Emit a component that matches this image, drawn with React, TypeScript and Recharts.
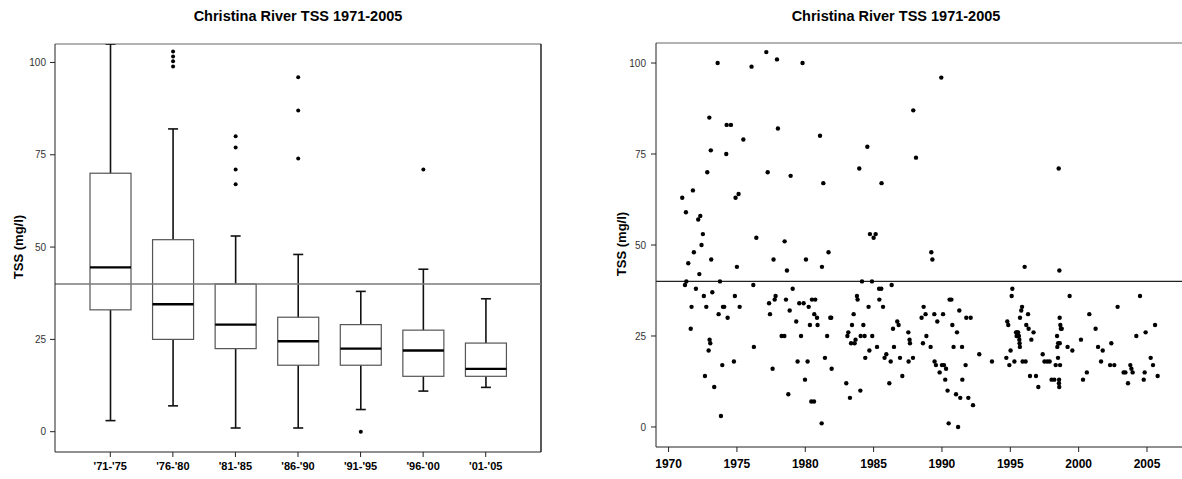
import React from 'react';
import { ComposedChart, ScatterChart, Bar, Scatter, XAxis, YAxis, ReferenceLine, CartesianGrid } from 'recharts';

const FONT = "'Liberation Sans', Arial, Helvetica, sans-serif";
const TITLE = 'Christina River TSS 1971-2005';
const Y_LABEL = 'TSS (mg/l)';
const STANDARD = 40;

// ---- Box plot (left) ----
const periods = ["'71-'75", "'76-'80", "'81-'85", "'86-'90", "'91-'95", "'96-'00", "'01-'05"];
const whiskerLow = [3, 7, 1, 1, 6, 11, 12];
const q1 = [33, 25, 22.5, 18, 18, 15, 15];
const median = [44.5, 34.5, 29, 24.5, 22.5, 22, 17];
const q3 = [70, 52, 40, 31, 29, 27.5, 24];
const whiskerHigh = [105, 82, 53, 48, 38, 44, 36];
const outliers: number[][] = [[], [103, 101.6, 100.3, 98.9], [80, 77, 71, 67], [96, 87, 74], [0], [71], []];

const yTicks = [0, 25, 50, 75, 100];
const yearTicks = [1970, 1975, 1980, 1985, 1990, 1995, 2000, 2005];

// ---- Scatter (right) ----
const sampleYears = [
  1971.0, 1971.2, 1971.27, 1971.3, 1971.44, 1971.62, 1971.68, 1971.78, 1971.85, 1972.0,
  1972.17, 1972.25, 1972.32, 1972.41, 1972.51, 1972.58, 1972.66, 1972.76, 1972.83, 1972.93,
  1972.98, 1973.0, 1973.05, 1973.09, 1973.12, 1973.2, 1973.34, 1973.59, 1973.66, 1973.76,
  1973.83, 1973.93, 1973.98, 1974.07, 1974.22, 1974.25, 1974.56, 1974.32, 1974.78, 1974.85,
  1974.9, 1975.0, 1975.12, 1975.2, 1975.47, 1976.07, 1976.2, 1976.24, 1976.42, 1977.15,
  1977.25, 1977.35, 1977.42, 1977.61, 1977.68, 1977.76, 1977.83, 1977.93, 1978.0, 1978.27,
  1978.47, 1978.49, 1978.59, 1978.66, 1978.76, 1978.86, 1978.93, 1979.08, 1979.34, 1979.44,
  1979.56, 1979.69, 1979.8, 1979.88, 1979.98, 1980.05, 1980.17, 1980.25, 1980.34, 1980.44,
  1980.49, 1980.64, 1980.66, 1980.73, 1980.86, 1980.9, 1981.08, 1981.2, 1981.22, 1981.32,
  1981.44, 1981.6, 1981.7, 1981.83, 1981.9, 1981.93, 1983.0, 1983.08, 1983.15, 1983.27,
  1983.35, 1983.42, 1983.54, 1983.61, 1983.68, 1983.78, 1983.83, 1983.95, 1984.03, 1984.05,
  1984.15, 1984.25, 1984.34, 1984.39, 1984.54, 1984.63, 1984.69, 1984.73, 1984.88, 1984.9,
  1985.0, 1985.15, 1985.25, 1985.4, 1985.42, 1985.56, 1985.58, 1985.69, 1985.8, 1985.93,
  1986.15, 1986.25, 1986.32, 1986.42, 1986.49, 1986.73, 1986.83, 1986.93, 1987.1, 1987.54,
  1987.56, 1987.63, 1987.66, 1987.88, 1987.9, 1988.1, 1988.51, 1988.61, 1988.66, 1988.8,
  1988.86, 1989.17, 1989.22, 1989.3, 1989.44, 1989.46, 1989.56, 1989.66, 1989.83, 1989.95,
  1990.0, 1990.08, 1990.15, 1990.24, 1990.3, 1990.41, 1990.49, 1990.56, 1990.69, 1990.76,
  1990.85, 1991.03, 1991.1, 1991.18, 1991.27, 1991.34, 1991.47, 1991.49, 1991.73, 1991.78,
  1991.93, 1992.1, 1992.27, 1992.73, 1993.66, 1994.71, 1994.78, 1994.85, 1994.93, 1995.02,
  1995.1, 1995.15, 1995.3, 1995.42, 1995.46, 1995.5, 1995.57, 1995.63, 1995.66, 1995.68,
  1995.7, 1995.71, 1995.8, 1995.86, 1995.9, 1996.05, 1996.12, 1996.17, 1996.3, 1996.34,
  1996.44, 1996.54, 1996.7, 1996.88, 1997.05, 1997.37, 1997.5, 1997.7, 1997.88, 1998.02,
  1998.22, 1998.32, 1998.42, 1998.44, 1998.49, 1998.5, 1998.54, 1998.57, 1998.56, 1998.58,
  1998.59, 1998.62, 1998.61, 1998.64, 1998.66, 1998.7, 1998.76, 1999.19, 1999.34, 1999.54,
  2000.17, 2000.32, 2000.6, 2000.78, 2001.24, 2001.42, 2001.64, 2001.76, 2002.3, 2002.39,
  2002.61, 2002.85, 2003.29, 2003.42, 2003.61, 2003.78, 2003.86, 2003.95, 2004.22, 2004.49,
  2004.76, 2004.83, 2004.9, 2005.27, 2005.44, 2005.59, 2005.78,
];
const sampleTss = [
  63, 39, 59, 40, 45, 27, 33, 65, 48, 38,
  57, 42, 58, 50, 53, 36, 14, 33, 70, 21,
  85, 24, 23, 76, 46, 37, 11, 100, 31, 40,
  3, 17, 33, 33, 75, 83, 83, 30, 18, 36,
  63, 44, 64, 33, 79, 99, 39, 22, 52, 103,
  70, 34, 31, 16, 46, 35, 36, 101, 82, 25,
  25, 51, 35, 43, 9, 32, 69, 38, 29, 18,
  34, 25, 100, 34, 13, 46, 18, 33, 28, 7,
  35, 7, 31, 35, 30, 28, 80, 1, 44, 67,
  19, 25, 48, 30, 30, 16, 12, 25, 26, 8,
  23, 28, 31, 23, 24, 36, 35, 71, 10, 25,
  40, 28, 25, 19, 77, 33, 21, 53, 40, 25,
  52, 53, 22, 38, 35, 38, 67, 33, 19, 20,
  12, 18, 39, 27, 22, 29, 28, 19, 14, 26,
  18, 24, 23, 19, 87, 74, 30, 23, 33, 31,
  25, 22, 48, 46, 31, 18, 17, 29, 15, 96,
  17, 31, 17, 13, 16, 10, 1, 35, 35, 28,
  22, 9, 26, 0, 32, 8, 22, 13, 17, 30,
  8, 30, 6, 20, 18, 19, 29, 28, 17, 21,
  36, 38, 18, 26, 25, 26, 26, 25, 24, 23,
  22, 30, 32, 33, 18, 44, 18, 28, 31, 27,
  14, 24, 26, 14, 11, 20, 18, 18, 18, 13,
  13, 17, 25, 22, 19, 23, 71, 13, 12, 11,
  43, 23, 30, 17, 28, 27, 27, 22, 36, 21,
  24, 13, 15, 31, 27, 22, 18, 21, 17, 23,
  17, 33, 15, 15, 12, 17, 16, 15, 25, 36,
  13, 15, 26, 19, 17, 28, 14,
];

const boxData = periods.map((p, i) => ({
  period: p,
  range: [whiskerLow[i], whiskerHigh[i]],
  q1: q1[i],
  median: median[i],
  q3: q3[i],
  outliers: outliers[i],
}));

const scatterData = sampleYears.map((yr, i) => ({ year: yr, tss: sampleTss[i] }));

function BoxShape(props: any) {
  const { x, y, width, height, payload } = props;
  if (x == null || y == null || !payload) return null;
  const lo = payload.range[0];
  const hi = payload.range[1];
  const top = Math.min(y, y + height);
  const bottom = Math.max(y, y + height);
  const toY = (v: number) => bottom - ((bottom - top) * (v - lo)) / (hi - lo);
  const cx = x + width / 2;
  const cap = 5;
  const yq1 = toY(payload.q1);
  const yq3 = toY(payload.q3);
  const ymed = toY(payload.median);
  const ylo = toY(lo);
  const yhi = toY(hi);
  return (
    <g>
      <line x1={cx} x2={cx} y1={yhi} y2={yq3} stroke="#111" strokeWidth={1.6} />
      <line x1={cx} x2={cx} y1={yq1} y2={ylo} stroke="#111" strokeWidth={1.6} />
      <line x1={cx - cap} x2={cx + cap} y1={yhi} y2={yhi} stroke="#111" strokeWidth={1.6} />
      <line x1={cx - cap} x2={cx + cap} y1={ylo} y2={ylo} stroke="#111" strokeWidth={1.6} />
      <rect x={x} y={yq3} width={width} height={yq1 - yq3} fill="none" stroke="#555" strokeWidth={1.2} />
      <line x1={x} x2={x + width} y1={ymed} y2={ymed} stroke="#000" strokeWidth={2.4} />
      {payload.outliers.map((v: number, k: number) => (
        <circle key={k} cx={cx} cy={toY(v)} r={2} fill="#000" />
      ))}
    </g>
  );
}

const Dot = (p: any) => <circle cx={p.cx} cy={p.cy} r={2.2} fill="#000" />;

// Frame edges derived from the chart's own plot-area offset
const topEdge = (p: any) => [p.offset.top];
const rightEdge = (p: any) => [p.offset.left + p.offset.width];

const yTickStyle = { fontSize: 10, fill: '#333', fontFamily: FONT };

const titleStyle = (cx: number): React.CSSProperties => ({
  position: 'absolute',
  left: cx,
  top: 9,
  transform: 'translateX(-50%)',
  fontFamily: FONT,
  fontWeight: 700,
  fontSize: 14.5,
  lineHeight: '15px',
  whiteSpace: 'nowrap',
  color: '#000',
});

const yLabelStyle = (cx: number, cy: number): React.CSSProperties => ({
  position: 'absolute',
  left: cx,
  top: cy,
  transform: 'translate(-50%, -50%) rotate(-90deg)',
  fontFamily: FONT,
  fontWeight: 700,
  fontSize: 13,
  lineHeight: '13px',
  whiteSpace: 'nowrap',
  color: '#000',
});

export default function App() {
  return (
    <div
      style={{
        position: 'fixed',
        left: 0,
        top: 0,
        width: 1182,
        height: 479,
        overflow: 'hidden',
        background: '#fff',
        fontFamily: FONT,
      }}
    >
      <div style={{ position: 'absolute', left: 0, top: 0 }}>
        <ComposedChart width={590} height={479} data={boxData} margin={{ top: 44, right: 49, bottom: 0, left: 0 }}>
          <CartesianGrid vertical={false} horizontalCoordinatesGenerator={topEdge} stroke="#999" strokeWidth={1.3} />
          <CartesianGrid horizontal={false} verticalCoordinatesGenerator={rightEdge} stroke="#000" strokeWidth={1.3} />
          <XAxis
            dataKey="period"
            type="category"
            height={27}
            padding={{ left: 24, right: 24 }}
            tick={{ fontSize: 11, fontWeight: 700, fill: '#000', fontFamily: FONT }}
            tickSize={5}
            tickMargin={5}
            axisLine={{ stroke: '#222' }}
            tickLine={{ stroke: '#222' }}
          />
          <YAxis
            type="number"
            domain={[-5.5, 105]}
            ticks={yTicks}
            allowDataOverflow
            width={55}
            tick={yTickStyle}
            tickSize={5}
            tickMargin={4}
            axisLine={{ stroke: '#222' }}
            tickLine={{ stroke: '#222' }}
          />
          <ReferenceLine y={STANDARD} stroke="#7a7a7a" strokeWidth={1.3} />
          <Bar dataKey="range" barSize={41} isAnimationActive={false} shape={BoxShape} />
        </ComposedChart>
      </div>

      <div style={{ position: 'absolute', left: 590, top: 0 }}>
        <ScatterChart width={598} height={479} margin={{ top: 43, right: 0, bottom: 0, left: 0 }}>
          <CartesianGrid vertical={false} horizontalCoordinatesGenerator={topEdge} stroke="#999" strokeWidth={1.3} />
          <XAxis
            type="number"
            dataKey="year"
            domain={[1969.08, 2008]}
            ticks={yearTicks}
            allowDataOverflow
            height={32}
            tick={{ fontSize: 12, fontWeight: 700, fill: '#000', fontFamily: FONT }}
            tickSize={5}
            tickMargin={7}
            axisLine={{ stroke: '#222' }}
            tickLine={{ stroke: '#222' }}
          />
          <YAxis
            type="number"
            dataKey="tss"
            domain={[-5.5, 105.5]}
            ticks={yTicks}
            allowDataOverflow
            width={66}
            tick={yTickStyle}
            tickSize={5}
            tickMargin={5}
            axisLine={{ stroke: '#222' }}
            tickLine={{ stroke: '#222' }}
          />
          <ReferenceLine y={STANDARD} stroke="#222" strokeWidth={1.1} />
          <Scatter data={scatterData} fill="#000" isAnimationActive={false} shape={Dot} />
        </ScatterChart>
      </div>

      <div style={titleStyle(298)}>{TITLE}</div>
      <div style={titleStyle(896)}>{TITLE}</div>
      <div style={yLabelStyle(18, 247)}>{Y_LABEL}</div>
      <div style={yLabelStyle(621, 244)}>{Y_LABEL}</div>
    </div>
  );
}
